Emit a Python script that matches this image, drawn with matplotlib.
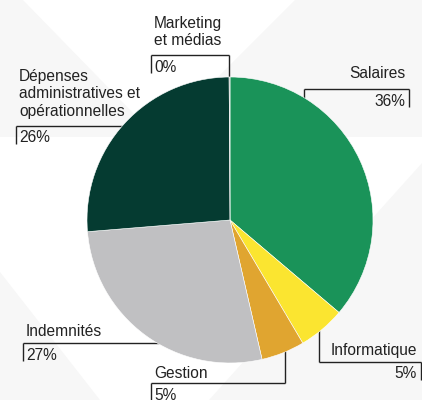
import numpy as np
import matplotlib.pyplot as plt
from matplotlib.patches import Polygon

plt.rcParams['font.family'] = ['Liberation Sans', 'DejaVu Sans']

# données
categories = ['Salaires', 'Informatique', 'Gestion', 'Indemnités',
              'Dépenses\nadministratives et\nopérationnelles', 'Marketing\net médias']
values = [36.2, 5.3, 4.9, 27.3, 26.2, 0.1]
pct_labels = ['36%', '5%', '5%', '27%', '26%', '0%']
colors = ['#1a9359', '#fbe530', '#e0a530', '#c0c0c2', '#053b31', '#8a8a8a']

W, H = 422, 400
TXT = '#222222'

fig = plt.figure(figsize=(W / 100, H / 100), dpi=100)
fig.patch.set_facecolor('white')
ax = fig.add_axes([0, 0, 1, 1])


def Y(y):
    return H - y


# fond décoratif
bg = '#f7f7f7'
for pts in [
    [(0, 0), (23, 0), (137, 117), (137, 137), (0, 137)],
    [(295, 0), (W, 0), (W, 137), (158, 137)],
    [(209, 400), (W, 163), (W, 400)],
    [(0, 272), (100, 400), (0, 400)],
]:
    ax.add_patch(Polygon([(x, Y(y)) for x, y in pts], closed=True,
                         facecolor=bg, edgecolor='none', zorder=0))

# camembert
cx, cy, R = 230, 220, 143
wedges, _ = ax.pie(values, colors=colors, startangle=90, counterclock=False,
                   center=(cx, Y(cy)), radius=R,
                   wedgeprops=dict(edgecolor='white', linewidth=0.4))
for w in wedges:
    w.set_zorder(3)


def mid_x(i):
    w = wedges[i]
    a = np.deg2rad((w.theta1 + w.theta2) / 2)
    return cx + R * np.cos(a)


# étiquettes: (ligne y, x extérieur, x intérieur, côté)
label_layout = [
    (89, 409, 304, 'right'),
    (362, 421, mid_x(1) - 3, 'right'),
    (383, 151, mid_x(2) + 2, 'left'),
    (343, 23, 170, 'left'),
    (126, 16, 140, 'left'),
    (55, 151, mid_x(5) - 1, 'left'),
]
name_y = [74, 350, 374, 332, 94, 32]
lw = 1.0
fs = 11.2

for i, (ly, xo, xi, side) in enumerate(label_layout):
    ax.plot([xo, xi], [Y(ly), Y(ly)], color=TXT, lw=lw, zorder=1,
            solid_capstyle='butt')
    ax.plot([xo, xo], [Y(ly), Y(ly + 18)], color=TXT, lw=lw, zorder=1,
            solid_capstyle='butt')
    ax.plot([xi, xi], [Y(ly), Y(cy)], color=TXT, lw=lw, zorder=1,
            solid_capstyle='butt')
    if side == 'right':
        tx = xo - 4
        ha = 'right'
    else:
        tx = xo + 3
        ha = 'left'
    ax.text(tx, Y(name_y[i]), categories[i], ha=ha, va='center', fontsize=fs,
            color=TXT, linespacing=1.2, zorder=4)
    ax.text(tx, Y(ly + 12), pct_labels[i], ha=ha, va='center', fontsize=fs,
            color=TXT, zorder=4)

ax.set_xlim(0, W)
ax.set_ylim(0, H)
ax.set_aspect('equal')
ax.axis('off')

fig.savefig('out.png', dpi=100, facecolor='white')
